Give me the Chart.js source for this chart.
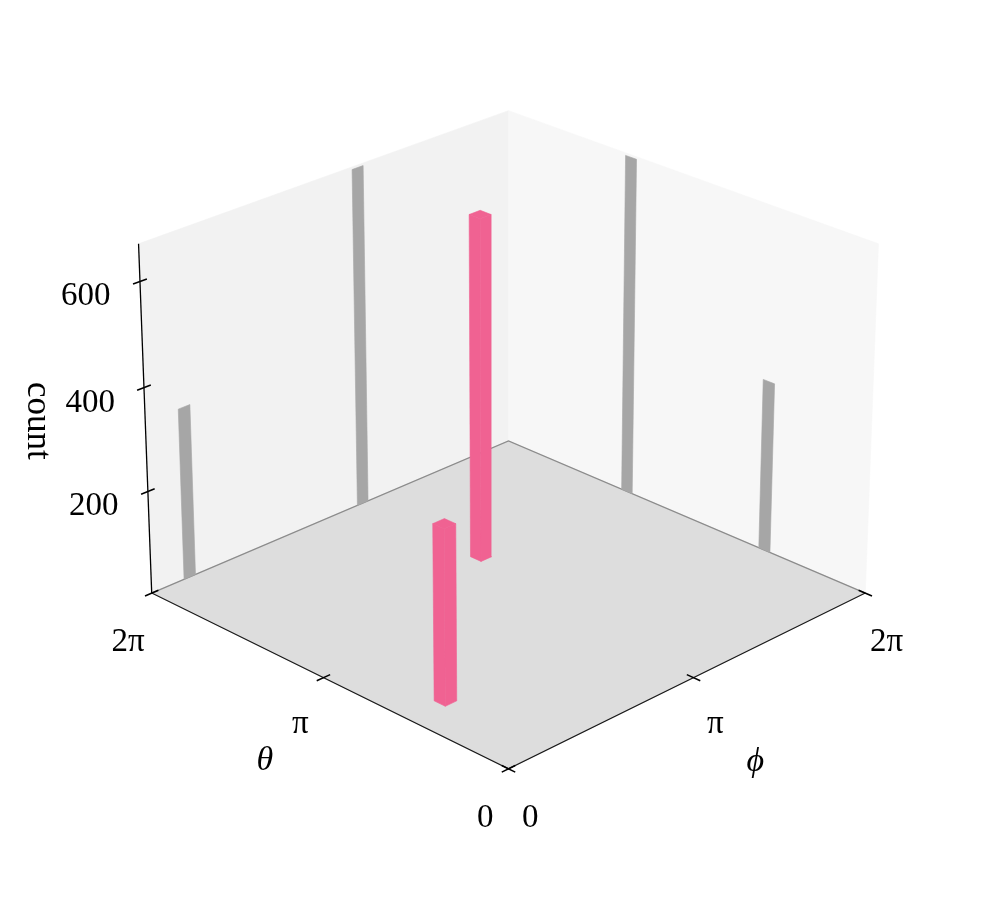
<!DOCTYPE html>
<html>
<head>
<meta charset="utf-8">
<script src="https://cdn.jsdelivr.net/npm/chart.js@4.4.1/dist/chart.umd.min.js"></script>
<style>
  html, body { margin: 0; padding: 0; background: #ffffff; }
  #wrap { width: 996px; height: 903px; position: relative; }
</style>
</head>
<body>
<div id="wrap"><canvas id="chart"></canvas></div>
<script>
// ---------------- data ----------------
const thetaCenters = [4.10, 1.69];      // bin centre, theta (rad)
const phiCenters   = [3.61, 0.63];      // bin centre, phi (rad)
const counts       = [665, 334];        // bar heights
const binWidth     = 0.19;              // bar footprint (rad)
const angleTicks       = [0, Math.PI, 2 * Math.PI];
const angleTickLabels  = ['0', 'π', '2π'];
const countTicks       = [200, 400, 600];
const countTickLabels  = ['200', '400', '600'];
const angleRange = [0, 2 * Math.PI];
const countRange = [0, 670];
const thetaLabel = 'θ';
const phiLabel   = 'ϕ';
const countLabel = 'count';

// ---------------- view (layout) ----------------
const ELEV = 25, AZIM = 225, DIST = 35;
const BOX = [4, 4, 3];                  // world box size (phi, theta, count)
const ZOOM = 4495, CX = 508.5, CY = 421.6, W = 996, H = 903;

const PINK = '#f06292', GRAY = '#a6a6a6';
const PANE_THETA = '#f2f2f2', PANE_PHI = '#f7f7f7', PANE_FLOOR = '#dddddd';
const FONT = '33px "Liberation Serif", "DejaVu Serif", serif';
const FONT_IT = 'italic 34px "Liberation Serif", "DejaVu Serif", serif';
const FONT_LABEL = '35px "Liberation Serif", "DejaVu Serif", serif';

// camera vectors
const er = ELEV * Math.PI / 180, ar = AZIM * Math.PI / 180;
const wv = [Math.cos(er) * Math.cos(ar), Math.cos(er) * Math.sin(ar), Math.sin(er)];
let uv = [-wv[1], wv[0], 0];
const un = Math.hypot(uv[0], uv[1]);
uv = uv.map(t => t / un);
const vv = [wv[1] * uv[2] - wv[2] * uv[1], wv[2] * uv[0] - wv[0] * uv[2], wv[0] * uv[1] - wv[1] * uv[0]];
const dot = (p, q) => p[0] * q[0] + p[1] * q[1] + p[2] * q[2];

// data -> world
function world(theta, phi, z) {
  return [
    (phi - angleRange[0]) / (angleRange[1] - angleRange[0]) * BOX[0] - BOX[0] / 2,
    (theta - angleRange[0]) / (angleRange[1] - angleRange[0]) * BOX[1] - BOX[1] / 2,
    (z - countRange[0]) / (countRange[1] - countRange[0]) * BOX[2] - BOX[2] / 2
  ];
}
// world -> projected value (used as chart x/y values)
function projW(P) {
  const depth = DIST - dot(P, wv);
  return { x: dot(P, uv) / depth, y: dot(P, vv) / depth };
}
const proj = (theta, phi, z) => projW(world(theta, phi, z));

// ---------------- build datasets in paint order ----------------
const layers = [];
function poly(pts, color, border) {
  const data = pts.map(p => proj(p[0], p[1], p[2]));
  data.push(data[0]);
  layers.push({
    data, showLine: true, fill: 'shape', backgroundColor: color,
    borderColor: border || color, borderWidth: border ? 1 : 0.6,
    pointRadius: 0, pointHoverRadius: 0, tension: 0
  });
}
function line(pts, color, width) {
  layers.push({
    data: pts.map(p => Array.isArray(p) ? proj(p[0], p[1], p[2]) : p),
    showLine: true, fill: false, borderColor: color, borderWidth: width,
    backgroundColor: color, pointRadius: 0, pointHoverRadius: 0, tension: 0
  });
}

const T0 = angleRange[0], T1 = angleRange[1], Z0 = countRange[0], Z1 = countRange[1];
// panes
poly([[T1, T0, Z0], [T1, T1, Z0], [T1, T1, Z1], [T1, T0, Z1]], PANE_THETA);
poly([[T0, T1, Z0], [T1, T1, Z0], [T1, T1, Z1], [T0, T1, Z1]], PANE_PHI);
poly([[T0, T0, Z0], [T1, T0, Z0], [T1, T1, Z0], [T0, T1, Z0]], PANE_FLOOR);
// back floor edges
line([[T1, T0, Z0], [T1, T1, Z0], [T0, T1, Z0]], '#8c8c8c', 1.3);

// bar projections on the two back walls
counts.forEach((c, i) => {
  const p0 = phiCenters[i] - binWidth / 2, p1 = phiCenters[i] + binWidth / 2;
  const t0 = thetaCenters[i] - binWidth / 2, t1 = thetaCenters[i] + binWidth / 2;
  poly([[T1, p0, Z0], [T1, p1, Z0], [T1, p1, c], [T1, p0, c]], GRAY);
  poly([[t0, T1, Z0], [t1, T1, Z0], [t1, T1, c], [t0, T1, c]], GRAY);
});

// axis lines
line([[T1, T0, Z0], [T0, T0, Z0], [T0, T1, Z0]], '#1a1a1a', 1.1);
line([[T1, T0, Z0], [T1, T0, Z1]], '#000000', 1.3);

// tick marks
const TIN = 0.07, TOUT = 0.07;
angleTicks.forEach(t => {
  const a = world(t, T0, Z0);   // theta axis, tick along phi direction
  line([projW([a[0] - TOUT, a[1], a[2]]), projW([a[0] + TIN, a[1], a[2]])], '#000', 1.5);
  const b = world(T0, t, Z0);   // phi axis, tick along theta direction
  line([projW([b[0], b[1] - TOUT, b[2]]), projW([b[0], b[1] + TIN, b[2]])], '#000', 1.5);
});
countTicks.forEach(z => {
  const c = world(T1, T0, z);
  line([projW([c[0] - TOUT, c[1], c[2]]), projW([c[0] + TIN, c[1], c[2]])], '#000', 1.5);
});

// pink bars, far to near
const barOrder = counts.map((c, i) => i)
  .sort((i, j) => (thetaCenters[j] + phiCenters[j]) - (thetaCenters[i] + phiCenters[i]));
barOrder.forEach(i => {
  const c = counts[i];
  const p0 = phiCenters[i] - binWidth / 2, p1 = phiCenters[i] + binWidth / 2;
  const t0 = thetaCenters[i] - binWidth / 2, t1 = thetaCenters[i] + binWidth / 2;
  poly([[t0, p0, Z0], [t1, p0, Z0], [t1, p0, c], [t0, p0, c]], PINK);   // phi-min face
  poly([[t0, p0, Z0], [t0, p1, Z0], [t0, p1, c], [t0, p0, c]], PINK);   // theta-min face
  poly([[t0, p0, c], [t1, p0, c], [t1, p1, c], [t0, p1, c]], PINK);     // top
});

const N = layers.length;
layers.forEach((d, i) => { d.order = N - i; });

// ---------------- labels ----------------
const labels = [];
angleTicks.forEach((t, i) => {
  labels.push({ text: angleTickLabels[i], at: [t, T0, Z0], dx: -23, dy: 47, font: FONT });
  labels.push({ text: angleTickLabels[i], at: [T0, t, Z0], dx: 22, dy: 47, font: FONT });
});
countTicks.forEach((z, i) => {
  labels.push({ text: countTickLabels[i], at: [T1, T0, z], dx: -54, dy: 13, font: FONT });
});
labels.push({ text: thetaLabel, at: [Math.PI, T0, Z0], dx: -58.5, dy: 80.5, font: FONT_IT });
labels.push({ text: phiLabel, at: [T0, Math.PI, Z0], dx: 61.5, dy: 84.5, font: FONT_IT });
labels.push({ text: countLabel, at: [T1, T0, (Z0 + Z1) / 2], dx: -107, dy: 0, font: FONT_LABEL, rot: Math.PI / 2 });

const labelPlugin = {
  id: 'labels3d',
  afterDatasetsDraw(chart) {
    const ctx = chart.ctx, xs = chart.scales.x, ys = chart.scales.y;
    labels.forEach(l => {
      const p = proj(l.at[0], l.at[1], l.at[2]);
      const px = xs.getPixelForValue(p.x) + l.dx;
      const py = ys.getPixelForValue(p.y) + l.dy;
      ctx.save();
      ctx.font = l.font;
      ctx.fillStyle = '#000';
      ctx.textAlign = 'left';
      ctx.textBaseline = 'alphabetic';
      const m = ctx.measureText(l.text);
      const ox = -(m.actualBoundingBoxRight - m.actualBoundingBoxLeft) / 2;
      const oy = (m.actualBoundingBoxAscent - m.actualBoundingBoxDescent) / 2;
      ctx.translate(px, py);
      if (l.rot) ctx.rotate(l.rot);
      ctx.fillText(l.text, ox, oy);
      ctx.restore();
    });
  }
};

new Chart(document.getElementById('chart'), {
  type: 'scatter',
  data: { datasets: layers },
  options: {
    responsive: true,
    maintainAspectRatio: false,
    animation: false,
    events: [],
    layout: { padding: 0 },
    plugins: { legend: { display: false }, tooltip: { enabled: false } },
    scales: {
      x: { type: 'linear', display: false, min: -CX / ZOOM, max: (W - CX) / ZOOM },
      y: { type: 'linear', display: false, min: -(H - CY) / ZOOM, max: CY / ZOOM }
    }
  },
  plugins: [labelPlugin]
});
</script>
</body>
</html>
